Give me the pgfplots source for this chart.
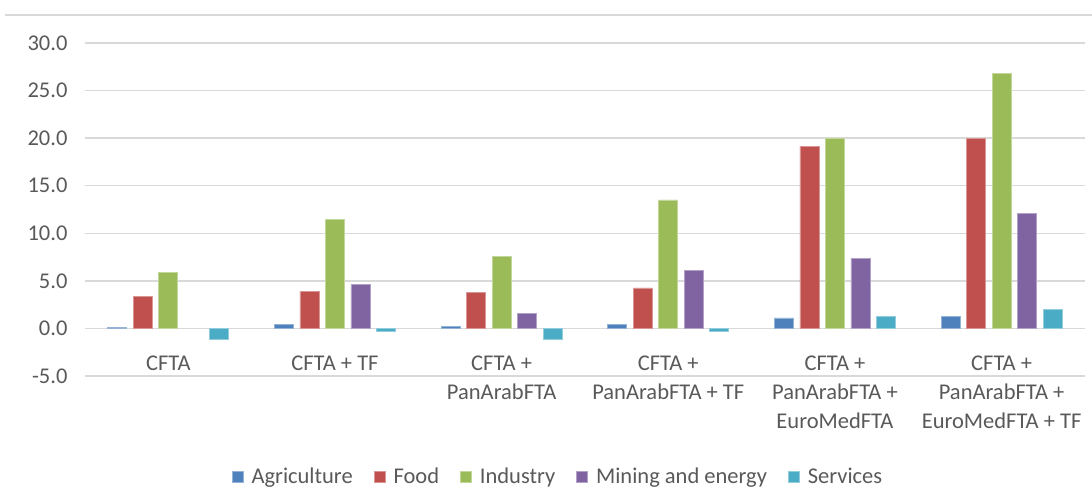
\documentclass[border=0pt]{standalone}
\usepackage{fontspec}
\setmainfont{Carlito}
\usepackage{pgfplots}
\pgfplotsset{compat=1.18}
\definecolor{agri}{HTML}{4F81BD}
\definecolor{food}{HTML}{C0504D}
\definecolor{indu}{HTML}{9BBB59}
\definecolor{mine}{HTML}{8064A2}
\definecolor{serv}{HTML}{4BACC6}
\definecolor{gridc}{HTML}{D9D9D9}
\definecolor{txt}{HTML}{595959}
\pgfplotstableread{
x agri food indu mine serv
0 0.15 3.4 5.9 nan -1.2
1 0.4 3.9 11.5 4.6 -0.3
2 0.25 3.8 7.6 1.6 -1.2
3 0.4 4.25 13.5 6.1 -0.3
4 1.1 19.15 20.0 7.35 1.25
5 1.25 20.0 26.8 12.1 2.0
}\datatable
\begin{document}
\begin{tikzpicture}
\path[use as bounding box] (0,0) rectangle (1092pt,488pt);
\draw[color=gridc, line width=1.5pt] (5pt,473pt) -- (1092pt,473pt);
\begin{axis}[
  at={(85pt,112pt)}, anchor=south west,
  scale only axis, width=1000pt, height=333pt,
  xmin=-0.5, xmax=5.5, ymin=-5, ymax=30,
  ytick={-5,0,5,10,15,20,25,30},
  xtick={0,1,2,3,4,5},
  xticklabels={CFTA, CFTA + TF, {CFTA +\\PanArabFTA}, {CFTA +\\PanArabFTA + TF}, {CFTA +\\PanArabFTA +\\EuroMedFTA}, {CFTA +\\PanArabFTA +\\EuroMedFTA + TF}},
  axis line style={draw=none},
  major tick length=0pt,
  ymajorgrids, grid style={gridc, line width=1.3pt},
  /pgf/number format/assume math mode=true,
  yticklabel style={/pgf/number format/.cd, fixed, fixed zerofill, precision=1, /tikz/.cd, font=\fontsize{22.5}{27}\selectfont, text=txt, xshift=-14pt},
  xticklabel style={align=center, font=\fontsize{22.5}{29}\selectfont, text=txt, yshift=24pt},
  legend style={at={(0.473,-0.303)}, anchor=center, draw=none, fill=none, legend columns=5, font=\fontsize{22.5}{27}\selectfont, text=txt, /tikz/every even column/.append style={column sep=19pt}},
  legend image code/.code={\fill[#1] (0pt,-5.5pt) rectangle (11pt,5.5pt); \path (17pt,0pt);},
  clip=false,
]
\addplot[ybar, bar shift=-51pt, bar width=19pt, fill=agri, draw=agri!60!white, line width=0.8pt] table[x=x,y=agri] {\datatable};
\addlegendentry{Agriculture}
\addplot[ybar, bar shift=-25.5pt, bar width=19pt, fill=food, draw=food!60!white, line width=0.8pt] table[x=x,y=food] {\datatable};
\addlegendentry{Food}
\addplot[ybar, bar shift=0pt, bar width=19pt, fill=indu, draw=indu!60!white, line width=0.8pt] table[x=x,y=indu] {\datatable};
\addlegendentry{Industry}
\addplot[ybar, bar shift=25.5pt, bar width=19pt, fill=mine, draw=mine!60!white, line width=0.8pt, unbounded coords=discard] table[x=x,y=mine] {\datatable};
\addlegendentry{Mining and energy}
\addplot[ybar, bar shift=51pt, bar width=19pt, fill=serv, draw=serv!60!white, line width=0.8pt] table[x=x,y=serv] {\datatable};
\addlegendentry{Services}
\end{axis}
\end{tikzpicture}
\end{document}
